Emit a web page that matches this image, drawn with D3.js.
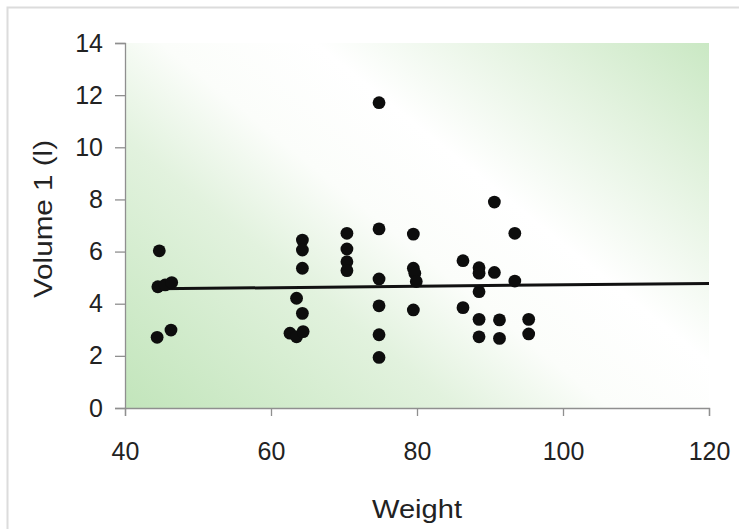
<!DOCTYPE html>
<html>
<head>
<meta charset="utf-8">
<script src="https://cdn.jsdelivr.net/npm/d3@7"></script>
<style>
  body { margin: 0; background: #fff; }
  text { font-family: "Liberation Sans", Arial, sans-serif; fill: #222; }
</style>
</head>
<body>
<div id="chart"></div>
<script>
// weight / volume pairs
const weights = [
  44.7, 44.5, 45.5, 46.4, 44.4, 46.3,
  64.3, 64.3, 64.3, 63.5, 64.3, 62.6, 63.5, 64.4,
  70.4, 70.4, 70.4, 70.4,
  74.8, 74.8, 74.8, 74.8, 74.8, 74.8,
  79.5, 79.5, 79.7, 79.9, 79.5,
  86.3, 86.3,
  88.5, 88.5, 88.5, 88.5, 88.5,
  90.6, 90.6, 91.3, 91.3,
  93.4, 93.4, 95.3, 95.3
];
const volumes = [
  6.03, 4.65, 4.72, 4.81, 2.71, 2.99,
  6.44, 6.06, 5.36, 4.21, 3.63, 2.87, 2.73, 2.93,
  6.70, 6.10, 5.61, 5.27,
  11.71, 6.87, 4.95, 3.92, 2.81, 1.94,
  6.67, 5.36, 5.17, 4.85, 3.76,
  5.65, 3.85,
  5.38, 5.17, 4.46, 3.40, 2.73,
  7.90, 5.20, 3.38, 2.67,
  6.70, 4.87, 3.40, 2.84
];
const trendX = [44.3, 120];
const trendY = [4.57, 4.78];
const xTicks = [40, 60, 80, 100, 120];
const yTicks = [0, 2, 4, 6, 8, 10, 12, 14];

const width = 739, height = 529;
const margins = {left: 125, top: 43, right: 30, bottom: 121};
const innerW = width - margins.left - margins.right;
const innerH = height - margins.top - margins.bottom;

const svg = d3.select('#chart').append('svg')
  .attr('width', width).attr('height', height);

// outer frame
svg.append('rect')
  .attr('x', 7.5).attr('y', 7.5)
  .attr('width', width).attr('height', height)
  .attr('fill', 'none').attr('stroke', '#dcdcdc').attr('stroke-width', 2);

const g = svg.append('g')
  .attr('transform', `translate(${margins.left},${margins.top})`);

const x = d3.scaleLinear().domain([40, 120]).range([0, innerW]);
const y = d3.scaleLinear().domain([0, 14]).range([innerH, 0]);

// diagonal green-white-green background
const dx = 365, dy = -450;
const len = Math.hypot(dx, dy);
const ux = dx / len, uy = dy / len;
const cx = innerW / 2 + 35, cy = innerH / 2;
const ext = Math.abs((0 - cx) * ux + (innerH - cy) * uy);
const grad = svg.append('defs').append('linearGradient')
  .attr('id', 'bg')
  .attr('gradientUnits', 'userSpaceOnUse')
  .attr('x1', cx - ext * ux).attr('y1', cy - ext * uy)
  .attr('x2', cx + ext * ux).attr('y2', cy + ext * uy);
[[0, '#c2e5bb'], [0.3, '#e2f2de'], [0.44, '#fbfdfa'], [0.58, '#ffffff'], [0.78, '#e2f2de'], [1, '#c0e4b9']]
  .forEach(([o, c]) => grad.append('stop').attr('offset', o).attr('stop-color', c));

g.append('rect')
  .attr('width', innerW).attr('height', innerH)
  .attr('fill', 'url(#bg)');

// axes
const xAxis = g.append('g')
  .attr('transform', `translate(0,${innerH})`)
  .call(d3.axisBottom(x).tickValues(xTicks).tickSize(8).tickPadding(26));
const yAxis = g.append('g')
  .call(d3.axisLeft(y).tickValues(yTicks).tickSize(10).tickPadding(12));

[xAxis, yAxis].forEach((a) => {
  a.selectAll('path, line').attr('stroke', '#8f8f8f').attr('stroke-width', 1.3);
  a.selectAll('text').attr('font-size', 25).attr('fill', '#1c1c1c')
    .style('font-family', '"Liberation Sans", Arial, sans-serif');
});

// trend line
g.append('line')
  .attr('x1', x(trendX[0])).attr('y1', y(trendY[0]))
  .attr('x2', x(trendX[1])).attr('y2', y(trendY[1]))
  .attr('stroke', '#111').attr('stroke-width', 3);

// points
g.selectAll('circle.pt')
  .data(weights.map((w, i) => ({w, v: volumes[i]})))
  .join('circle')
  .attr('class', 'pt')
  .attr('cx', (d) => x(d.w))
  .attr('cy', (d) => y(d.v))
  .attr('r', 6.4)
  .attr('fill', '#0d0d0d');

// axis titles
svg.append('text')
  .attr('x', 417).attr('y', 518)
  .attr('text-anchor', 'middle').attr('font-size', 25)
  .attr('textLength', 90).attr('lengthAdjust', 'spacingAndGlyphs')
  .text('Weight');

svg.append('text')
  .attr('transform', 'translate(52,219) rotate(-90)')
  .attr('text-anchor', 'middle').attr('font-size', 25)
  .attr('textLength', 158).attr('lengthAdjust', 'spacingAndGlyphs')
  .text('Volume 1 (l)');
</script>
</body>
</html>
